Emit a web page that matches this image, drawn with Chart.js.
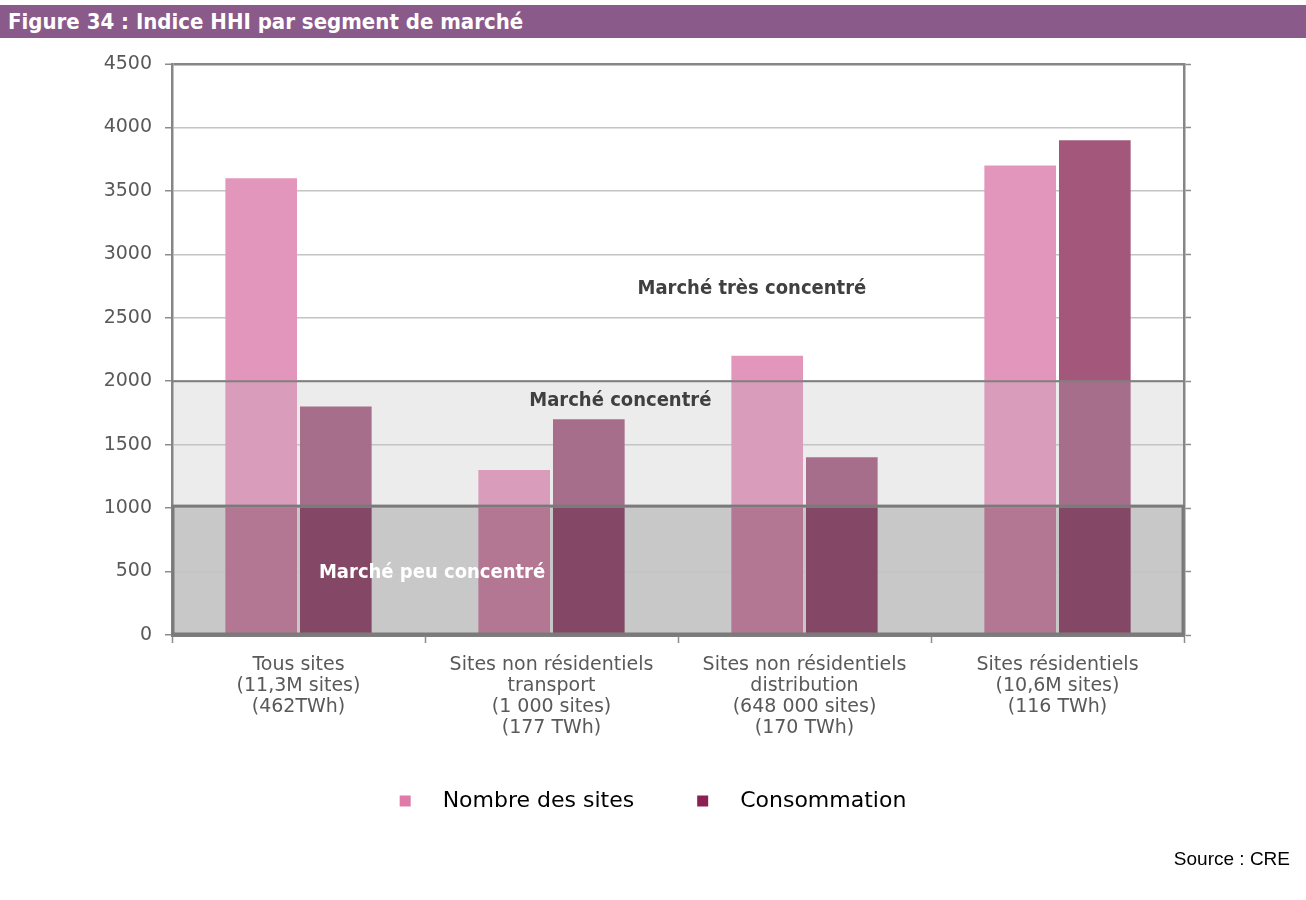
<!DOCTYPE html>
<html lang="fr">
<head>
<meta charset="utf-8">
<title>Indice HHI par segment de marché</title>
<script src="https://cdn.jsdelivr.net/npm/chart.js@4.4.1/dist/chart.umd.min.js"></script>
<style>
  html, body { margin: 0; padding: 0; background: #fff; }
  body { width: 1306px; height: 900px; position: relative; overflow: hidden; }
  #title-bar {
    position: absolute; left: 0; top: 5px; width: 1306px; height: 33px;
    background: #8a5a8a; color: #fff; z-index: 2;
    font: bold 22px "DejaVu Sans Condensed", "DejaVu Sans", sans-serif;
    line-height: 33px; padding-left: 8px; box-sizing: border-box;
  }
  #chart-box { position: absolute; left: 0; top: 0; width: 1306px; height: 860px; }
  #source {
    position: absolute; right: 16px; top: 848px;
    font: 19px "Liberation Sans", Arial, sans-serif; color: #000;
  }
</style>
</head>
<body>
<div id="title-bar">Figure 34 : Indice HHI par segment de marché</div>
<div id="chart-box"><canvas id="hhi-chart"></canvas></div>
<div id="source">Source : CRE</div>

<script>
// categories (multi-line labels)
const categories = [
  ['Tous sites', '(11,3M sites)', '(462TWh)'],
  ['Sites non résidentiels', 'transport', '(1 000 sites)', '(177 TWh)'],
  ['Sites non résidentiels', 'distribution', '(648 000 sites)', '(170 TWh)'],
  ['Sites résidentiels', '(10,6M sites)', '(116 TWh)'],
];
const nombreSites = [3600, 1300, 2200, 3700];
const consommation = [1800, 1700, 1400, 3900];

const yMin = 0;
const yMax = 4500;
const yStep = 500;

// HHI thresholds and band captions
const bandLimits = [1000, 2000];
const bandLabels = ['Marché peu concentré', 'Marché concentré', 'Marché très concentré'];
const bandLabelValues = [490, 1845, 2730];

// colours: [below 1000, 1000-2000, above 2000]
const PINK_TONES = ['#b37793', '#d99cba', '#e396bc'];
const PLUM_TONES = ['#844866', '#a66e8a', '#a2577b'];
const LEGEND_COLORS = ['#e07aa8', '#8b2152'];

function bandFill(tones) {
  return (ctx) => {
    const chart = ctx.chart;
    const y = chart.scales.y;
    if (!chart.chartArea || !y) return tones[2];
    const y0 = y.getPixelForValue(yMin);
    const y1 = y.getPixelForValue(yMax);
    const g = chart.ctx.createLinearGradient(0, y0, 0, y1);
    const f1 = (bandLimits[0] - yMin) / (yMax - yMin);
    const f2 = (bandLimits[1] - yMin) / (yMax - yMin);
    g.addColorStop(0, tones[0]);
    g.addColorStop(f1, tones[0]);
    g.addColorStop(f1, tones[1]);
    g.addColorStop(f2, tones[1]);
    g.addColorStop(f2, tones[2]);
    g.addColorStop(1, tones[2]);
    return g;
  };
}

// grey zones behind the grid, threshold lines + captions on top of bars
const bandsPlugin = {
  id: 'bands',
  beforeDraw(chart) {
    const { ctx, chartArea: a, scales: { y } } = chart;
    const p0 = y.getPixelForValue(yMin);
    const p1 = y.getPixelForValue(bandLimits[0]);
    const p2 = y.getPixelForValue(bandLimits[1]);
    ctx.save();
    ctx.fillStyle = '#c8c8c8';
    ctx.fillRect(a.left, p1, a.right - a.left, p0 - p1);
    ctx.fillStyle = '#ececec';
    ctx.fillRect(a.left, p2, a.right - a.left, p1 - p2);
    ctx.restore();
  },
  afterDatasetsDraw(chart) {
    const { ctx, chartArea: a, scales: { y } } = chart;
    const p0 = y.getPixelForValue(yMin);
    const p1 = y.getPixelForValue(bandLimits[0]);
    const p2 = y.getPixelForValue(bandLimits[1]);
    ctx.save();
    ctx.strokeStyle = '#808080';
    ctx.lineWidth = 2;
    ctx.beginPath();
    ctx.moveTo(a.left, p2); ctx.lineTo(a.right, p2);
    ctx.stroke();
    ctx.lineWidth = 3;
    ctx.strokeStyle = '#7a7a7a';
    ctx.strokeRect(a.left + 1, p1 - 2, a.right - a.left - 2, p0 - p1 + 1);

    const w = a.right - a.left;
    const xs = [0.257, 0.443, 0.573];
    ctx.textAlign = 'center';
    ctx.textBaseline = 'middle';
    bandLabels.forEach((txt, i) => {
      ctx.font = 'bold 20px "DejaVu Sans Condensed", "Liberation Sans", sans-serif';
      ctx.fillStyle = i === 0 ? '#ffffff' : '#404040';
      ctx.fillText(txt, a.left + w * xs[i], y.getPixelForValue(bandLabelValues[i]));
    });
    ctx.restore();
  }
};

const axisFont = { family: '"DejaVu Sans", sans-serif', size: 19 };

new Chart(document.getElementById('hhi-chart'), {
  type: 'bar',
  data: {
    labels: categories,
    datasets: [
      { label: 'Nombre des sites', data: nombreSites, backgroundColor: bandFill(PINK_TONES), yAxisID: 'y' },
      { label: 'Consommation', data: consommation, backgroundColor: bandFill(PLUM_TONES), yAxisID: 'y' },
    ]
  },
  options: {
    responsive: true,
    maintainAspectRatio: false,
    animation: false,
    datasets: { bar: { categoryPercentage: 0.59, barPercentage: 0.96 } },
    layout: { padding: { top: 64, left: 0, right: 0, bottom: 38 } },
    plugins: {
      tooltip: { enabled: false },
      legend: {
        position: 'bottom',
        labels: {
          color: '#000',
          font: { family: '"DejaVu Sans", sans-serif', size: 22 },
          boxWidth: 11,
          boxHeight: 11,
          padding: 35,
          generateLabels: (chart) => chart.data.datasets.map((ds, i) => ({
            text: '   ' + ds.label + (i === 0 ? '    ' : ''),
            fillStyle: LEGEND_COLORS[i],
            strokeStyle: LEGEND_COLORS[i],
            lineWidth: 0,
            datasetIndex: i,
            hidden: false,
          })),
        }
      }
    },
    scales: {
      x: {
        grid: { drawOnChartArea: false, tickLength: 8, tickColor: '#8c8c8c', tickWidth: 1.5 },
        border: { color: '#7f7f7f', width: 3 },
        ticks: { color: '#595959', font: { ...axisFont, lineHeight: 1.1 }, padding: 12, maxRotation: 0, autoSkip: false },
        afterFit: (s) => { s.height = 120; },
      },
      y: {
        min: yMin, max: yMax,
        ticks: { stepSize: yStep, color: '#595959', font: axisFont, padding: 13, callback: (v) => String(v) },
        grid: {
          color: (c) => c.tick && c.tick.value === yMax ? '#868686' : '#c4c4c4',
          lineWidth: (c) => c.tick && c.tick.value === yMax ? 2.5 : 1.5,
          tickLength: 7, tickColor: '#8c8c8c', tickWidth: 1.5,
        },
        border: { color: '#868686', width: 2.5 },
        afterFit: (s) => { s.width = 172; },
      },
      y2: {
        position: 'right',
        min: yMin, max: yMax,
        ticks: { stepSize: yStep, display: false },
        grid: { drawOnChartArea: false, tickLength: 7, tickColor: '#8c8c8c', tickWidth: 1.5 },
        border: { color: '#868686', width: 2.5 },
        afterFit: (s) => { s.width = 122; },
      }
    }
  },
  plugins: [bandsPlugin]
});
</script>
</body>
</html>
